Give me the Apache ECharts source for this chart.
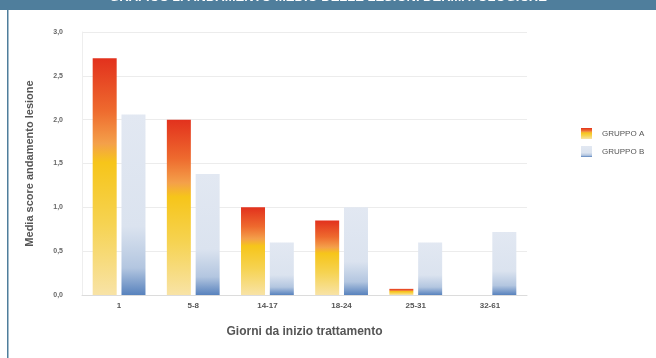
<!DOCTYPE html>
<html>
<head>
<meta charset="utf-8">
<script src="https://cdn.jsdelivr.net/npm/echarts@6/dist/echarts.min.js"></script>
<style>
  html, body { margin: 0; padding: 0; background: #fff; }
  #chart { width: 656px; height: 358px; }
</style>
</head>
<body>
<div id="chart"></div>
<script>
// Giorni dall'inizio del trattamento
const categories = ['1', '5-8', '14-17', '18-24', '25-31', '32-61'];
// Media score andamento lesione per gruppo
const gruppoA = [2.7, 2.0, 1.0, 0.85, 0.07, 0];
const gruppoB = [2.06, 1.38, 0.6, 1.0, 0.6, 0.72];
const seriesNames = ['GRUPPO A', 'GRUPPO B'];
const yTicks = [0, 0.5, 1, 1.5, 2, 2.5, 3];

const chart = echarts.init(document.getElementById('chart'));

const gradA = new echarts.graphic.LinearGradient(0, 0, 0, 1, [
  { offset: 0, color: '#e2311d' },
  { offset: 0.22, color: '#ee6a2e' },
  { offset: 0.36, color: '#f4a04a' },
  { offset: 0.44, color: '#f6c51a' },
  { offset: 0.7, color: '#f6d352' },
  { offset: 1, color: '#f8e3a6' }
]);
const gradB = new echarts.graphic.LinearGradient(0, 0, 0, 1, [
  { offset: 0, color: '#e2e8f2' },
  { offset: 0.62, color: '#dbe3ef' },
  { offset: 0.85, color: '#b3c6e0' },
  { offset: 1, color: '#5882bd' }
]);

const font = '"Liberation Sans", Arial, sans-serif';

chart.setOption({
  animation: false,
  backgroundColor: '#ffffff',
  graphic: [
    { type: 'rect', left: 0, top: 0, shape: { width: 656, height: 10 }, style: { fill: '#4f7e9c' }, z: 10 },
    { type: 'rect', left: 7, top: 10, shape: { width: 1.5, height: 348 }, style: { fill: '#4f7e9c' }, z: 10 },
    {
      type: 'text', left: 'center', top: -9, z: 11,
      style: {
        text: 'GRAFICO 2. ANDAMENTO MEDIO DELLE LESIONI DERMATOLOGICHE',
        fill: '#ffffff', font: 'bold 13px ' + font
      }
    }
  ],
  legend: {
    orient: 'vertical',
    left: 576, top: 123,
    itemWidth: 11, itemHeight: 11, itemGap: 7,
    icon: 'rect',
    textStyle: { fontFamily: font, fontSize: 8, color: '#555', padding: [0, 0, 0, 5] },
    data: seriesNames
  },
  grid: { left: 82, right: 129, top: 32, bottom: 63 },
  xAxis: {
    type: 'category',
    data: categories,
    name: 'Giorni da inizio trattamento',
    nameLocation: 'middle',
    nameGap: 31,
    nameTextStyle: { fontFamily: font, fontSize: 12, fontWeight: 'bold', color: '#555' },
    axisLine: { lineStyle: { color: '#dcdcdc' } },
    axisTick: { show: false },
    axisLabel: { fontFamily: font, fontSize: 8, fontWeight: 'bold', color: '#555', margin: 7 }
  },
  yAxis: {
    type: 'value',
    min: 0, max: 3, interval: 0.5,
    name: 'Media score andamento lesione',
    nameLocation: 'middle',
    nameGap: 47,
    nameTextStyle: { fontFamily: font, fontSize: 11, fontWeight: 'bold', color: '#555' },
    axisLine: { show: true, lineStyle: { color: '#eeeeee' } },
    axisTick: { show: false },
    axisLabel: {
      fontFamily: font, fontSize: 7, fontWeight: 'bold', color: '#666', margin: 19,
      formatter: v => yTicks.includes(v) ? v.toFixed(1).replace('.', ',') : ''
    },
    splitLine: { lineStyle: { color: '#ececec' } }
  },
  series: [
    { name: seriesNames[0], type: 'bar', data: gruppoA, barWidth: 24, barGap: '20%', itemStyle: { color: gradA } },
    { name: seriesNames[1], type: 'bar', data: gruppoB, barWidth: 24, itemStyle: { color: gradB } }
  ]
});
</script>
</body>
</html>
